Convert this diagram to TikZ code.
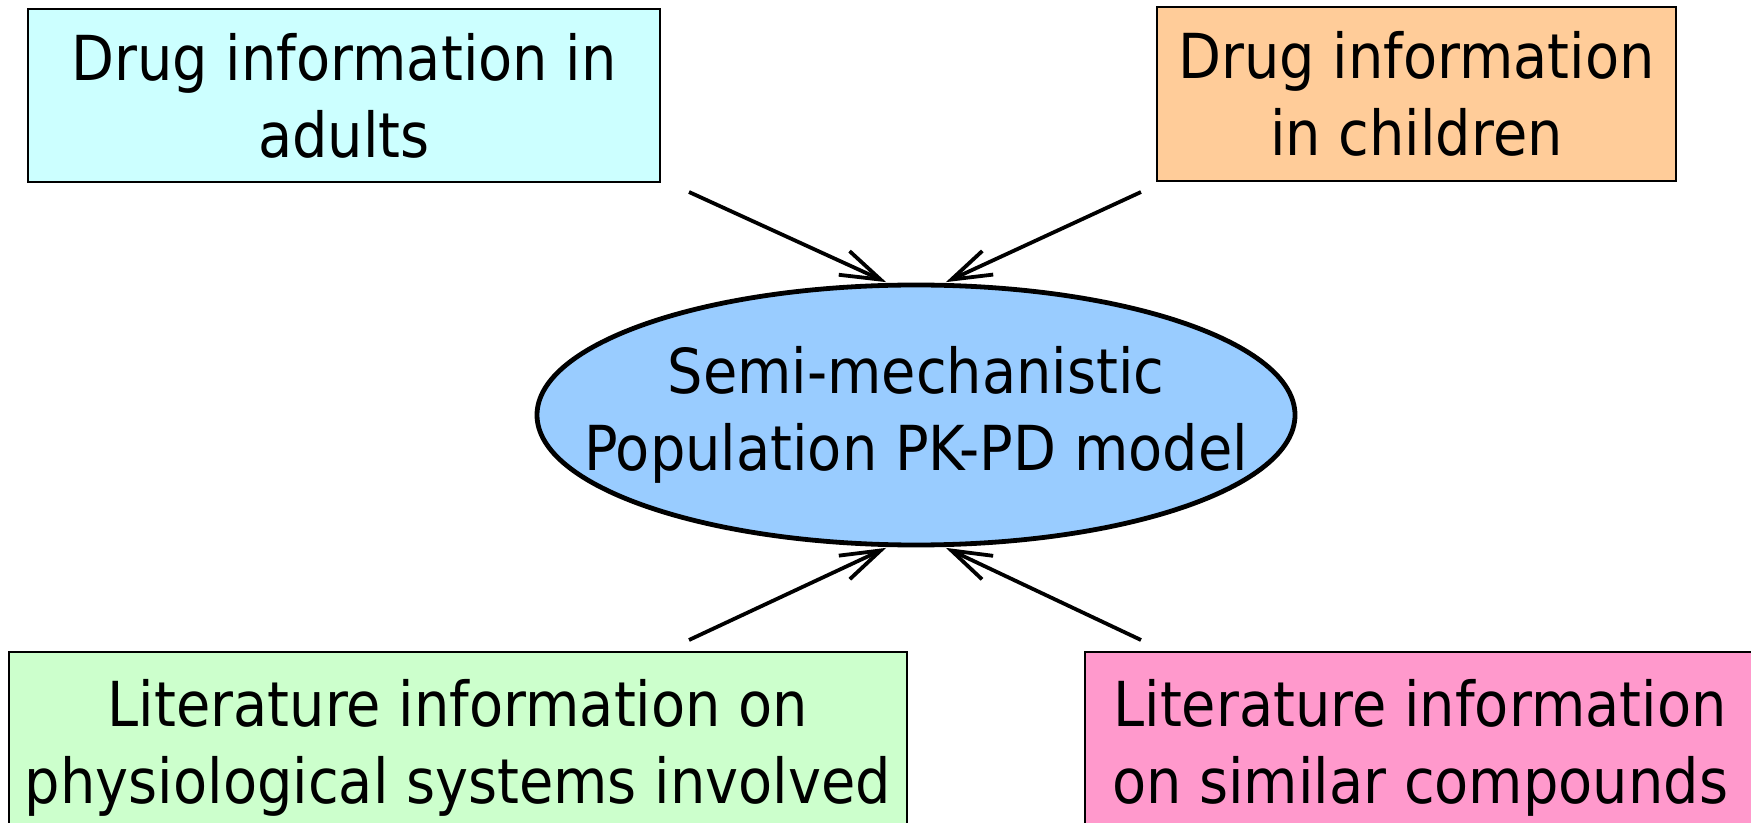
\documentclass[tikz,border=0pt]{standalone}
\usepackage{fontspec}
\setmainfont{DejaVu Sans}[FakeStretch=0.9]
\usepackage{tikz}
\usetikzlibrary{shapes.geometric, arrows.meta}
\definecolor{adultcol}{HTML}{CCFFFF}
\definecolor{childcol}{HTML}{FFCC99}
\definecolor{physcol}{HTML}{CCFFCC}
\definecolor{compcol}{HTML}{FF99CC}
\definecolor{modelcol}{HTML}{99CCFF}

\begin{document}
\begin{tikzpicture}[x=0.5pt, y=-0.5pt,
	every node/.style={font=\fontsize{31}{38.5}\selectfont, align=center},
	infobox/.style={draw, line width=0.9pt, inner sep=0pt, outer sep=0pt},
	model/.style={draw, ellipse, line width=2.4pt, fill=modelcol, inner sep=0pt, minimum width=379pt, minimum height=130pt},
	feed/.style={line width=1.9pt, -{Straight Barb[length=20pt, width=13pt, line width=1.9pt]}}]
	\useasboundingbox (0,0) rectangle (1751,823);
	\clip (0,0) rectangle (1751,823);

	\node[model, label={[align=center]center:Semi-mechanistic\\Population PK-PD model}] (m) at (916,415) {};

	\node[infobox, fill=adultcol, minimum width=316pt, minimum height=86.5pt] (adult) at (344,95.5) {Drug information in\\adults};
	\node[infobox, fill=childcol, minimum width=259.5pt, minimum height=87pt] (child) at (1416.5,94) {Drug information\\in children};
	\node[infobox, fill=physcol, minimum width=449pt, minimum height=96pt] (phys) at (458,748) {Literature information on\\physiological systems involved};
	\node[infobox, fill=compcol, minimum width=335pt, minimum height=96pt] (comp) at (1420,748) {Literature information\\on similar compounds};

	\coordinate (a1) at (689,192);
	\coordinate (a2) at (1141,192);
	\coordinate (a3) at (689,640);
	\coordinate (a4) at (1141,640);

	\draw[feed, shorten >=1pt] (a1) -- (m.102);
	\draw[feed, shorten >=1pt] (a2) -- (m.78);
	\draw[feed, shorten >=1pt] (a3) -- (m.-102);
	\draw[feed, shorten >=1pt] (a4) -- (m.-78);
\end{tikzpicture}
\end{document}
